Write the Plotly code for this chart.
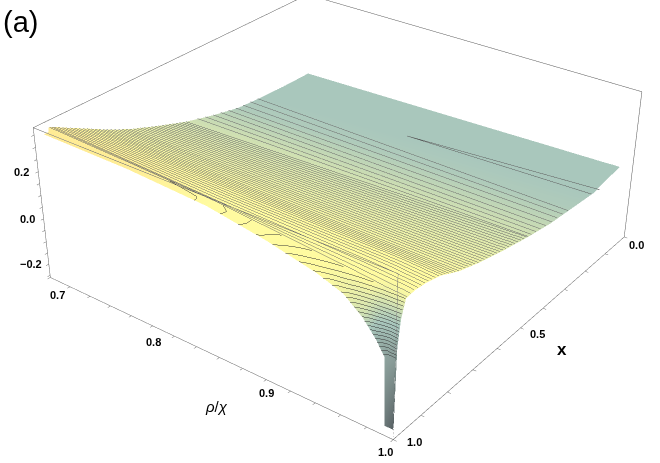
import plotly.graph_objects as go

# page is 660x463, scene is bigger so its fixed 45 deg lens gives the flat perspective of the original
FIG_W = 1400
FIG_H = 1216
OFF_X = 374
OFF_Y = 381

rho_vals = [0.70, 0.78, 0.85, 0.90, 0.94, 0.96, 0.975, 0.985, 0.992, 0.993, 1.0]
x_vals = [0.0, 0.1, 0.2, 0.3, 0.4, 0.5, 0.6, 0.7, 0.78, 0.85, 0.9, 0.94, 0.97, 0.985, 0.995, 1.0]
# the surface does not quite fill the box at its two far ends
row_start = [.70, .70, .70, .70, .70, .70, .70, .70, .70, .70, .70, .70, .705, .71, .71, .71]
row_end = [.99, .995, 1, 1, 1, 1, 1, 1, 1, 1, 1, 1, 1, 1, 1, 1]

z_rows = [
    [.005, .014, .022, .028, .033, .035, .037, .038, .039, .040, .040],
    [.007, .021, .033, .042, .049, .053, .056, .058, .060, .062, .065],
    [.012, .030, .046, .057, .066, .071, .074, .077, .078, .079, .085],
    [.022, .040, .056, .067, .076, .081, .084, .087, .088, .089, .095],
    [.050, .065, .078, .087, .094, .098, .100, .102, .104, .104, .105],
    [.085, .096, .105, .112, .117, .120, .122, .123, .124, .125, .125],
    [.130, .135, .140, .143, .146, .147, .148, .149, .149, .150, .150],
    [.180, .180, .180, .180, .180, .180, .180, .180, .180, .180, .180],
    [.230, .225, .220, .217, .214, .213, .212, .211, .211, .210, .210],
    [.280, .272, .265, .262, .260, .260, .258, .255, .252, .252, .250],
    [.315, .302, .290, .285, .280, .278, .275, .270, .268, .267, .265],
    [.345, .325, .308, .298, .290, .285, .280, .277, .275, .275, .270],
    [.370, .355, .340, .315, .295, .285, .277, .270, .268, .268, .265],
    [.370, .362, .345, .310, .280, .260, .232, .215, .205, .205, .200],
    [.370, .365, .345, .308, .265, .232, .185, .140, .070, .060, .100],
    [.370, .365, .345, .305, .260, .225, .165, .105, .050, -.22, -.22],
]

# colour position of each grid point, 0 orange, 0.2 yellow, 0.5 teal, 1 dark grey
tone_rows = [
    [.50, .50, .50, .50, .50, .50, .50, .50, .50, .50, .50],
    [.50, .50, .50, .50, .50, .50, .50, .50, .50, .50, .50],
    [.50, .50, .50, .50, .50, .50, .50, .50, .50, .50, .50],
    [.48, .48, .48, .48, .48, .48, .48, .48, .48, .48, .48],
    [.42, .42, .42, .42, .42, .42, .42, .42, .42, .42, .42],
    [.36, .36, .36, .36, .36, .36, .36, .36, .36, .36, .36],
    [.31, .31, .31, .31, .31, .31, .31, .31, .31, .31, .31],
    [.27, .27, .27, .27, .27, .27, .27, .27, .27, .27, .27],
    [.23, .23, .23, .23, .23, .23, .23, .23, .23, .23, .23],
    [.18, .19, .20, .20, .20, .20, .20, .20, .20, .20, .20],
    [.13, .16, .20, .20, .20, .20, .20, .20, .20, .20, .20],
    [.10, .13, .20, .20, .20, .20, .20, .20, .20, .20, .20],
    [.09, .11, .20, .20, .20, .20, .20, .25, .25, .25, .25],
    [.08, .10, .20, .20, .20, .25, .30, .40, .45, .45, .45],
    [.08, .10, .20, .20, .20, .25, .35, .55, .68, .68, .68],
    [.08, .10, .20, .20, .20, .25, .40, .60, .65, .85, .95],
]

# the far mesh lines are sparse and lean a little against the x axis
sparse_x_left = [.22, .25, .28, .31, .34, .37, .40, .43, .46]
sparse_x_right = [.32, .345, .37, .395, .42, .445, .465, .485, .50]
sparse_z_left = [.014, .017, .020, .025, .033, .042, .050, .060, .071]
sparse_z_right = [.096, .100, .103, .105, .108, .114, .118, .122, .125]

# short closed sliver in the flat part of the surface
wedge_rho = [1.0, 0.84, 1.0]
wedge_x = [0.17, 0.19, 0.21]
wedge_z = [0.078, 0.050, 0.088]

rho_ticks = [0.70, 0.72, 0.74, 0.76, 0.78, 0.80, 0.82, 0.84, 0.86, 0.88, 0.90, 0.92, 0.94, 0.96, 0.98, 1.0]
x_ticks = [0.0, 0.1, 0.2, 0.3, 0.4, 0.5, 0.6, 0.7, 0.8, 0.9, 1.0]
z_ticks = [-0.25, -0.2, -0.15, -0.1, -0.05, 0.0, 0.05, 0.1, 0.15, 0.2, 0.25, 0.3, 0.35]

rho_labelled = [0.7, 0.8, 0.9, 1.0]
rho_text = ["0.7", "0.8", "0.9", "1.0"]
rho_shift = [(7, 18), (1, 16), (0, 13), (-8, 12)]
x_labelled = [1.0, 0.5, 0.0]
x_text = ["1.0", "0.5", "0.0"]
x_shift = [(21, 2), (17, 6), (12, 8)]
z_labelled = [0.2, 0.0, -0.2]
z_text = ["0.2", "0.0", "\u22120.2"]
z_shift = [(-17, 0), (-16, 0), (-18, 0)]

RHO_RANGE = [0.7, 1.0]
Y_RANGE = [0.0, 1.0]
Z_RANGE = [-0.26, 0.38]
SPLIT = 12  # row where the mesh changes from lines along rho to level lines

SURF_COLORS = [
    [0.0, "#FFD25B"], [0.2, "#FFF977"], [0.35, "#C3D78E"],
    [0.5, "#83AE9F"], [0.7, "#58746E"], [1.0, "#000910"],
]


def paper_note(px, py, text, size):
    return dict(
        xref="paper", yref="paper", x=(px + OFF_X) / FIG_W, y=1 - (py + OFF_Y) / FIG_H,
        text=text, showarrow=False, xanchor="center", yanchor="middle",
        font=dict(family="Liberation Sans", size=size, color="black"),
    )


def tick_note(x, y, z, text, shift):
    return dict(
        x=x, y=y, z=z, text="<b>%s</b>" % text, showarrow=False,
        xshift=shift[0], yshift=-shift[1],
        font=dict(family="Liberation Sans", size=11, color="black"),
    )


def axis(rng, ticks):
    return dict(
        range=rng, tickmode="array", tickvals=ticks, showticklabels=False, title=dict(text=""),
        showgrid=False, zeroline=False, showbackground=False, showspikes=False,
        showline=True, mirror=True, linecolor="#555555", linewidth=1,
        ticks="outside", ticklen=3, tickcolor="#666666",
    )


def patch(rows, contours):
    return go.Surface(
        x=[rho_grid[i] for i in rows], y=[y_grid[i] for i in rows],
        z=[z_rows[i] for i in rows], surfacecolor=[tone_rows[i] for i in rows],
        cmin=0, cmax=1, showscale=False, hoverinfo="skip", opacity=0.7,
        colorscale=SURF_COLORS,
        lighting=dict(ambient=1, diffuse=0, specular=0, fresnel=0, roughness=1),
        contours=contours,
    )


# scene y runs the other way round from x, so x=0 sits at the back
y_grid = []
rho_grid = []
for i, v in enumerate(x_vals):
    y_grid.append([1 - v] * len(rho_vals))
    scale = (row_end[i] - row_start[i]) / 0.3
    rho_grid.append([row_start[i] + (r - 0.7) * scale for r in rho_vals])

fig = go.Figure()
fig.add_trace(patch(
    range(0, SPLIT + 1),
    dict(y=dict(show=True, start=0.035, end=0.50, size=0.0125, color="#666666", width=1)),
))
fig.add_trace(patch(
    range(SPLIT, len(x_vals)),
    dict(z=dict(show=True, start=0.06, end=0.35, size=0.012, color="#333333", width=1)),
))

for i in range(len(sparse_x_left)):
    fig.add_trace(go.Scatter3d(
        x=RHO_RANGE, y=[1 - sparse_x_left[i], 1 - sparse_x_right[i]],
        z=[sparse_z_left[i] + 0.002, sparse_z_right[i] + 0.002],
        mode="lines", line=dict(color="#555555", width=1), hoverinfo="skip",
    ))

fig.add_trace(go.Scatter3d(
    x=wedge_rho, y=[1 - v for v in wedge_x], z=wedge_z,
    mode="lines", line=dict(color="#444444", width=1), hoverinfo="skip",
))

# front edges of the box stay on top of the see-through surface
fig.add_trace(go.Scatter3d(
    x=[RHO_RANGE[0], RHO_RANGE[1], RHO_RANGE[1], None, RHO_RANGE[1], RHO_RANGE[1]],
    y=[Y_RANGE[0], Y_RANGE[0], Y_RANGE[1], None, Y_RANGE[0], Y_RANGE[0]],
    z=[Z_RANGE[1], Z_RANGE[1], Z_RANGE[1], None, Z_RANGE[1], Z_RANGE[0]],
    mode="lines", line=dict(color="#555555", width=1), hoverinfo="skip",
))

scene_notes = []
for i, v in enumerate(rho_labelled):
    scene_notes.append(tick_note(v, 0.0, Z_RANGE[0], rho_text[i], rho_shift[i]))
for i, v in enumerate(x_labelled):
    scene_notes.append(tick_note(1.0, 1 - v, Z_RANGE[0], x_text[i], x_shift[i]))
for i, v in enumerate(z_labelled):
    scene_notes.append(tick_note(0.7, 0.0, v, z_text[i], z_shift[i]))

fig.update_layout(
    width=FIG_W, height=FIG_H, margin=dict(l=0, r=0, t=0, b=0),
    paper_bgcolor="white", showlegend=False,
    scene=dict(
        domain=dict(x=[0, 1], y=[0, 1]),
        xaxis=axis(RHO_RANGE, rho_ticks),
        yaxis=axis(Y_RANGE, [1 - v for v in x_ticks]),
        zaxis=axis(Z_RANGE, z_ticks),
        aspectmode="manual", aspectratio=dict(x=1, y=1, z=0.4),
        camera=dict(
            eye=dict(x=1.813, y=-2.44, z=1.698),
            center=dict(x=0.013, y=-0.088, z=-0.069),
            up=dict(x=0, y=0, z=1),
        ),
        annotations=scene_notes,
    ),
    annotations=[
        paper_note(20, 22, "(a)", 29),
        paper_note(216, 406, "<i>\u03c1</i>/<i>\u03c7</i>", 15),
        paper_note(562, 349, "<b>x</b>", 17),
    ],
)

fig.write_html(
    "out.html",
    post_script=(
        "var d=document.getElementById('{plot_id}');"
        "d.style.position='fixed';d.style.left='-%dpx';d.style.top='-%dpx';" % (OFF_X, OFF_Y)
    ),
)
